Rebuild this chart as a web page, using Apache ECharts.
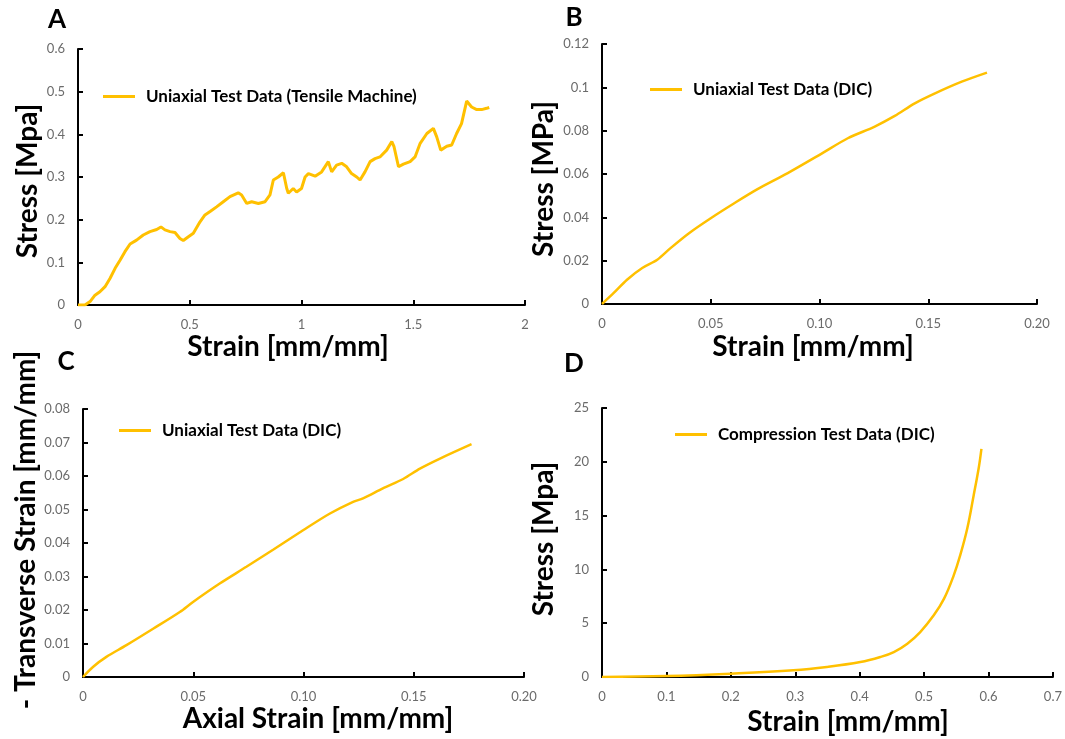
<!DOCTYPE html>
<html>
<head>
<meta charset="utf-8">
<script src="https://cdn.jsdelivr.net/npm/echarts@6/dist/echarts.min.js"></script>
<style>
  html, body { margin: 0; padding: 0; background: #ffffff; }
  #chart { width: 1065px; height: 739px; }
</style>
</head>
<body>
<div id="chart"></div>
<script>
// Panel A: uniaxial tensile test, tensile machine
const strainA = [0, 0.031, 0.054, 0.076, 0.098, 0.121, 0.143, 0.166, 0.188, 0.21, 0.233, 0.262, 0.292, 0.322, 0.352, 0.371, 0.389, 0.412, 0.434, 0.456, 0.471, 0.494, 0.516, 0.546, 0.568, 0.591, 0.62, 0.65, 0.68, 0.717, 0.732, 0.755, 0.777, 0.807, 0.837, 0.859, 0.874, 0.896, 0.919, 0.934, 0.941, 0.963, 0.978, 1.0, 1.016, 1.031, 1.061, 1.09, 1.12, 1.135, 1.157, 1.18, 1.202, 1.224, 1.247, 1.262, 1.284, 1.307, 1.329, 1.351, 1.381, 1.404, 1.414, 1.434, 1.456, 1.486, 1.508, 1.531, 1.561, 1.59, 1.605, 1.623, 1.65, 1.672, 1.694, 1.716, 1.739, 1.761, 1.784, 1.806, 1.828, 1.84];
const stressA = [0, 0, 0.008, 0.023, 0.031, 0.043, 0.062, 0.086, 0.105, 0.125, 0.143, 0.152, 0.164, 0.172, 0.177, 0.183, 0.176, 0.172, 0.17, 0.156, 0.151, 0.16, 0.168, 0.195, 0.211, 0.219, 0.23, 0.242, 0.254, 0.263, 0.258, 0.238, 0.242, 0.238, 0.242, 0.258, 0.293, 0.3, 0.31, 0.273, 0.262, 0.273, 0.265, 0.273, 0.3, 0.308, 0.302, 0.312, 0.336, 0.312, 0.328, 0.332, 0.324, 0.308, 0.3, 0.293, 0.312, 0.336, 0.343, 0.347, 0.363, 0.383, 0.371, 0.324, 0.33, 0.336, 0.347, 0.379, 0.402, 0.414, 0.394, 0.363, 0.372, 0.375, 0.402, 0.425, 0.478, 0.464, 0.458, 0.458, 0.461, 0.463];

// Panel B: uniaxial test, DIC stress-strain
const strainB = [0, 0.0054, 0.0115, 0.0185, 0.0254, 0.0315, 0.04, 0.05, 0.0608, 0.0715, 0.0854, 0.1008, 0.113, 0.1254, 0.1346, 0.1438, 0.1531, 0.1654, 0.177];
const stressB = [0, 0.0051, 0.0112, 0.0166, 0.0204, 0.0258, 0.0327, 0.0396, 0.0465, 0.053, 0.0604, 0.0693, 0.0765, 0.0819, 0.0868, 0.0926, 0.0972, 0.1026, 0.1068];

// Panel C: axial vs. transverse strain, DIC
const axialC = [0, 0.0045, 0.0106, 0.0197, 0.0318, 0.0439, 0.0499, 0.062, 0.0741, 0.0862, 0.0998, 0.112, 0.1225, 0.127, 0.136, 0.1452, 0.1528, 0.1619, 0.1762];
const transverseC = [0, 0.003, 0.006, 0.0095, 0.0144, 0.0194, 0.0224, 0.0279, 0.0329, 0.038, 0.0438, 0.0488, 0.0523, 0.0533, 0.0563, 0.0591, 0.0622, 0.0652, 0.0695];

// Panel D: compression test, DIC
const strainD = [0, 0.1, 0.2, 0.297, 0.349, 0.401, 0.432, 0.453, 0.474, 0.494, 0.515, 0.531, 0.546, 0.556, 0.567, 0.577, 0.585, 0.589];
const stressD = [0, 0.09, 0.31, 0.62, 0.93, 1.39, 1.86, 2.32, 3.1, 4.18, 5.73, 7.28, 9.45, 11.3, 13.8, 16.9, 19.5, 21.2];

// Tick labels
const ticksAx = ['0', '0.5', '1', '1.5', '2'];
const ticksAy = ['0', '0.1', '0.2', '0.3', '0.4', '0.5', '0.6'];
const ticksBx = ['0', '0.05', '0.10', '0.15', '0.20'];
const ticksBy = ['0', '0.02', '0.04', '0.06', '0.08', '0.1', '0.12'];
const ticksCx = ['0', '0.05', '0.10', '0.15', '0.20'];
const ticksCy = ['0', '0.01', '0.02', '0.03', '0.04', '0.05', '0.06', '0.07', '0.08'];
const ticksDx = ['0', '0.1', '0.2', '0.3', '0.4', '0.5', '0.6', '0.7'];
const ticksDy = ['0', '5', '10', '15', '20', '25'];

// Series names
const nameA = 'Uniaxial Test Data (Tensile Machine)';
const nameB = 'Uniaxial Test Data (DIC)';
const nameC = 'Uniaxial Test Data (DIC) ';
const nameD = 'Compression Test Data (DIC)';

const zip = (xs, ys) => xs.map((x, i) => [x, ys[i]]);

const GOLD = '#FFC000';
const FONT = 'Lato, "Open Sans", sans-serif';

function axis(gridIndex, min, max, interval, labels) {
  return {
    type: 'value',
    gridIndex: gridIndex,
    min: min,
    max: max,
    interval: interval,
    splitLine: { show: false },
    axisLine: { show: true, onZero: false, lineStyle: { color: '#000', width: 2 } },
    axisTick: { show: true, inside: true, length: 5, lineStyle: { color: '#000', width: 2 } },
    axisLabel: {
      margin: 13,
      color: '#6b6b6b',
      fontFamily: FONT,
      fontSize: 13,
      formatter: (v, i) => labels[i]
    }
  };
}

function legend(name, left, top) {
  return {
    data: [name],
    left: left,
    top: top,
    padding: 0,
    icon: 'rect',
    itemWidth: 32,
    itemHeight: 3,
    textStyle: { fontFamily: FONT, fontWeight: 'bold', fontSize: 17, color: '#000', padding: [0, 0, 0, 6] }
  };
}

function series(name, idx, data, width, smooth) {
  return {
    name: name,
    type: 'line',
    xAxisIndex: idx,
    yAxisIndex: idx,
    data: data,
    showSymbol: false,
    symbol: 'none',
    smooth: smooth,
    lineStyle: { color: GOLD, width: width },
    itemStyle: { color: GOLD },
    animation: false
  };
}

function title(text, x, y, vertical) {
  return {
    type: 'text',
    x: x,
    y: y,
    rotation: vertical ? Math.PI / 2 : 0,
    style: {
      text: text,
      fill: '#000',
      font: 'bold 28px ' + FONT,
      align: 'center',
      verticalAlign: 'middle'
    }
  };
}

function letter(text, x, y) {
  return {
    type: 'text',
    x: x,
    y: y,
    style: { text: text, fill: '#000', font: 'bold 26px ' + FONT, align: 'center', verticalAlign: 'middle' }
  };
}

const option = {
  backgroundColor: '#ffffff',
  animation: false,
  grid: [
    { left: 78, top: 49, width: 447, height: 256 },
    { left: 602, top: 44, width: 435, height: 260 },
    { left: 83, top: 409, width: 441, height: 268 },
    { left: 602, top: 408, width: 451, height: 269 }
  ],
  xAxis: [
    axis(0, 0, 2, 0.5, ticksAx),
    axis(1, 0, 0.2, 0.05, ticksBx),
    axis(2, 0, 0.2, 0.05, ticksCx),
    axis(3, 0, 0.7, 0.1, ticksDx)
  ],
  yAxis: [
    axis(0, 0, 0.6, 0.1, ticksAy),
    axis(1, 0, 0.12, 0.02, ticksBy),
    axis(2, 0, 0.08, 0.01, ticksCy),
    axis(3, 0, 25, 5, ticksDy)
  ],
  legend: [
    legend(nameA, 103, 88),
    legend(nameB, 650, 81),
    legend(nameC, 119, 422),
    legend(nameD, 675, 426)
  ],
  series: [
    series(nameA, 0, zip(strainA, stressA), 3, false),
    series(nameB, 1, zip(strainB, stressB), 2.5, 0.3),
    series(nameC, 2, zip(axialC, transverseC), 2.5, 0.3),
    series(nameD, 3, zip(strainD, stressD), 2.5, 0.4)
  ],
  graphic: [
    letter('A', 57, 20),
    letter('B', 574, 18),
    letter('C', 66, 362),
    letter('D', 574, 364),
    title('Stress [Mpa]', 28, 181, true),
    title('Strain [mm/mm]', 288, 347, false),
    title('Stress [MPa]', 544, 179, true),
    title('Strain [mm/mm]', 813, 347, false),
    title('- Transverse Strain [mm/mm]', 26, 530, true),
    title('Axial Strain [mm/mm]', 318, 719, false),
    title('Stress [Mpa]', 544, 539, true),
    title('Strain [mm/mm]', 848, 722, false)
  ]
};

const chart = echarts.init(document.getElementById('chart'), null, { renderer: 'canvas' });
chart.setOption(option);
</script>
</body>
</html>
